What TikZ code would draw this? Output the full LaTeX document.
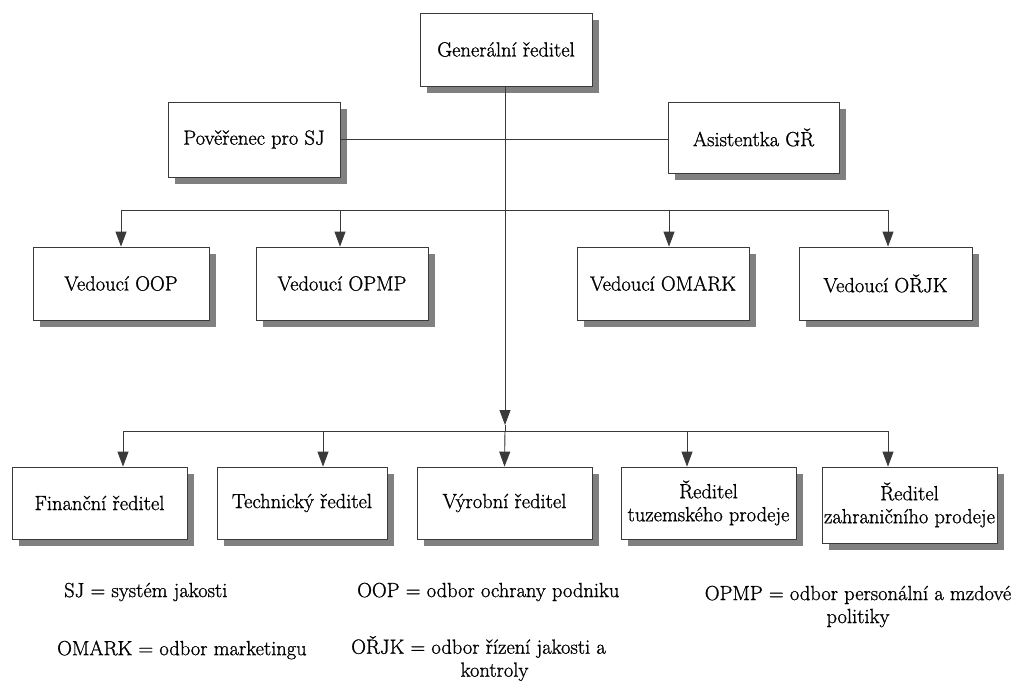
\documentclass[tikz,border=0pt]{standalone}
\usepackage{fontspec}
\setmainfont{Latin Modern Roman}[FakeBold=1.0]
\usetikzlibrary{shadows,arrows.meta}
\definecolor{linec}{HTML}{3A3A3A}
\definecolor{shadowc}{HTML}{808080}
\tikzset{
  orgbox/.style={draw=linec, line width=0.8pt, fill=white, inner sep=0pt, align=center,
    font=\fontsize{20.5}{23}\selectfont,
    drop shadow={shadow xshift=7pt, shadow yshift=-7pt, fill=shadowc, opacity=1}},
  conn/.style={draw=linec, line width=0.9pt},
  arr/.style={conn, -{Triangle[width=11pt,length=15pt]}, fill=linec},
  legend/.style={align=center, inner sep=0pt, font=\fontsize{20.5}{23}\selectfont}
}
\begin{document}
\begin{tikzpicture}[x=1pt,y=-1pt]
\useasboundingbox (0,0) rectangle (1011,684);
% nodes
\node[orgbox, minimum width=172pt, minimum height=73pt] (gr) at (506,49.5) {Generální ředitel};
\node[orgbox, minimum width=172pt, minimum height=75pt] (pov) at (254,139.5) {Pověřenec pro SJ};
\node[orgbox, minimum width=171pt, minimum height=71pt] (asis) at (753.5,137.5) {Asistentka GŘ};
\node[orgbox, minimum width=176pt, minimum height=73pt] (oop) at (121,283.5) {Vedoucí OOP};
\node[orgbox, minimum width=172pt, minimum height=73pt] (opmp) at (342,283.5) {Vedoucí OPMP};
\node[orgbox, minimum width=172pt, minimum height=73pt] (omark) at (663,283.5) {Vedoucí OMARK};
\node[orgbox, minimum width=173pt, minimum height=73pt] (orjk) at (885.5,283.5) {Vedoucí OŘJK};
\node[orgbox, minimum width=175pt, minimum height=72pt] (fin) at (99.5,503) {Finanční ředitel};
\node[orgbox, minimum width=170pt, minimum height=72pt] (tech) at (302,503) {Technický ředitel};
\node[orgbox, minimum width=175pt, minimum height=72pt] (vyr) at (504.5,503) {Výrobní ředitel};
\node[orgbox, minimum width=175pt, minimum height=72pt] (tuz) at (708.5,503) {Ředitel\\tuzemského prodeje};
\node[orgbox, minimum width=175pt, minimum height=76pt] (zahr) at (909.5,505) {Ředitel\\zahraničního prodeje};
% coordinates
\coordinate (t1) at (121,210);
\coordinate (t2) at (340,210);
\coordinate (t3) at (669,210);
\coordinate (t4) at (888,210);
\coordinate (mid) at (505,425);
\coordinate (bus) at (505,431);
\coordinate (b1) at (123,431);
\coordinate (b2) at (323,431);
\coordinate (b4) at (687,431);
\coordinate (b5) at (888,431);
% connectors
\draw[conn] (pov.east) -- (asis.west |- pov.east);
\draw[arr] (gr.south -| mid) -- (mid);
\draw[conn] (mid) -- (bus);
\draw[conn] (t1) -- (t4);
\draw[arr] (t1) -- (t1 |- oop.north);
\draw[arr] (t2) -- (t2 |- opmp.north);
\draw[arr] (t3) -- (t3 |- omark.north);
\draw[arr] (t4) -- (t4 |- orjk.north);
\draw[conn] (b1) -- (b5);
\draw[arr] (b1) -- (b1 |- fin.north);
\draw[arr] (b2) -- (b2 |- tech.north);
\draw[arr] (bus) -- (vyr.north);
\draw[arr] (b4) -- (b4 |- tuz.north);
\draw[arr] (b5) -- (b5 |- zahr.north);
% legend
\node[legend, anchor=west] (l1) at (64,592) {SJ = systém jakosti};
\node[legend, anchor=west] (l2) at (357,592) {OOP = odbor ochrany podniku};
\node[legend] (l3) at (858,606.5) {OPMP = odbor personální a mzdové\\politiky};
\node[legend, anchor=west] (l4) at (57,650) {OMARK = odbor marketingu};
\node[legend] (l5) at (478.5,658.5) {OŘJK = odbor řízení jakosti a\\\hspace*{32pt}kontroly};
\end{tikzpicture}
\end{document}
